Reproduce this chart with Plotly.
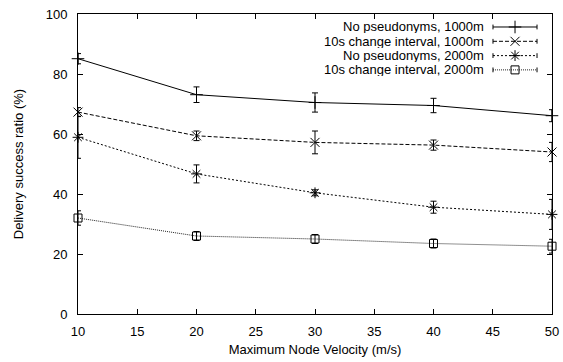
import plotly.graph_objects as go

velocity = [10, 20, 30, 40, 50]
x_ticks = [10, 15, 20, 25, 30, 35, 40, 45, 50]
y_ticks = [0, 20, 40, 60, 80, 100]

names = ["No pseudonyms, 1000m", "10s change interval, 1000m",
         "No pseudonyms, 2000m", "10s change interval, 2000m"]

nopseudo_1000 = [85.1, 73.1, 70.5, 69.5, 66.1]
nopseudo_1000_err = [1.7, 2.6, 3.2, 2.4, 2.0]
change10_1000 = [67.3, 59.4, 57.2, 56.3, 54.0]
change10_1000_err = [1.5, 1.6, 3.8, 1.7, 3.2]
nopseudo_2000 = [58.9, 46.7, 40.4, 35.6, 33.2]
nopseudo_2000_err = [7.0, 3.0, 1.0, 2.0, 5.0]
change10_2000 = [32.0, 26.0, 25.0, 23.5, 22.6]
change10_2000_err = [2.4, 1.5, 1.5, 1.5, 2.3]

series = [nopseudo_1000, change10_1000, nopseudo_2000, change10_2000]
errors = [nopseudo_1000_err, change10_1000_err, nopseudo_2000_err, change10_2000_err]
symbols = ["cross-thin-open", "x-thin-open", "asterisk-open", "square-open"]
sizes = [9, 9, 9, 8]
dashes = ["solid", "4px,2px", "2px,2px", "1px,1px"]
colors = ["#000000", "#000000", "#000000", "#222222"]

FONT = "Liberation Sans, Arial, sans-serif"

fig = go.Figure()
for ys, es, nm, sym, sz, ds, col in zip(series, errors, names, symbols, sizes, dashes, colors):
    fig.add_trace(go.Scatter(
        x=velocity, y=ys, name=nm, mode="lines+markers",
        line=dict(color=col, width=1, dash=ds),
        marker=dict(symbol=sym, size=sz, color="black", line=dict(color="black", width=1)),
        error_y=dict(type="data", array=es, visible=True, color="black", thickness=1, width=3),
        cliponaxis=False, showlegend=False,
    ))

# custom gnuplot-style legend (text right-aligned, sample on the right)
text_right = 0.8586
line_x0, line_x1, mark_x = 0.8755, 0.9684, 0.922
row_y = [0.9567, 0.909, 0.8613, 0.8137]
for nm, sym, sz, ds, col, ry in zip(names, symbols, sizes, dashes, colors, row_y):
    fig.add_annotation(x=text_right, y=ry, xref="paper", yref="paper", text=nm,
                       showarrow=False, xanchor="right", yanchor="middle",
                       height=13, borderpad=0,
                       font=dict(family=FONT, size=13, color="black"))
    fig.add_shape(type="line", xref="paper", yref="paper", x0=line_x0, x1=line_x1,
                  y0=ry, y1=ry, line=dict(color=col, width=1, dash=ds))
    for xe in (line_x0, line_x1):
        fig.add_shape(type="line", xref="paper", yref="paper", x0=xe, x1=xe,
                      y0=ry - 0.008, y1=ry + 0.008, line=dict(color="black", width=1))
    fig.add_trace(go.Scatter(
        x=[mark_x], y=[ry], xaxis="x2", yaxis="y2", mode="markers",
        marker=dict(symbol=sym, size=sz, color="black", line=dict(color="black", width=1)),
        showlegend=False, hoverinfo="skip", cliponaxis=False,
    ))

axis_common = dict(
    showline=True, linecolor="black", linewidth=1, mirror="ticks",
    ticks="inside", ticklen=5, tickcolor="black", tickwidth=1,
    showgrid=False, zeroline=False, automargin=False,
    tickfont=dict(family=FONT, size=13, color="black"),
)

fig.update_layout(
    width=563, height=362,
    margin=dict(l=78, r=11, t=14, b=48),
    paper_bgcolor="white", plot_bgcolor="white",
    font=dict(family=FONT, size=13, color="black"),
    xaxis=dict(range=[10, 50], tickvals=x_ticks,
               title=dict(text="Maximum Node Velocity (m/s)", standoff=7,
                          font=dict(family=FONT, size=13, color="black")),
               ticklabelstandoff=5, **axis_common),
    yaxis=dict(range=[0, 100], tickvals=y_ticks,
               title=dict(text="Delivery success ratio (%)", standoff=19,
                          font=dict(family=FONT, size=13, color="black")),
               ticklabelstandoff=7, **axis_common),
    xaxis2=dict(range=[0, 1], overlaying="x", visible=False, showgrid=False),
    yaxis2=dict(range=[0, 1], overlaying="y", visible=False, showgrid=False),
)

fig.write_html("out.html")
